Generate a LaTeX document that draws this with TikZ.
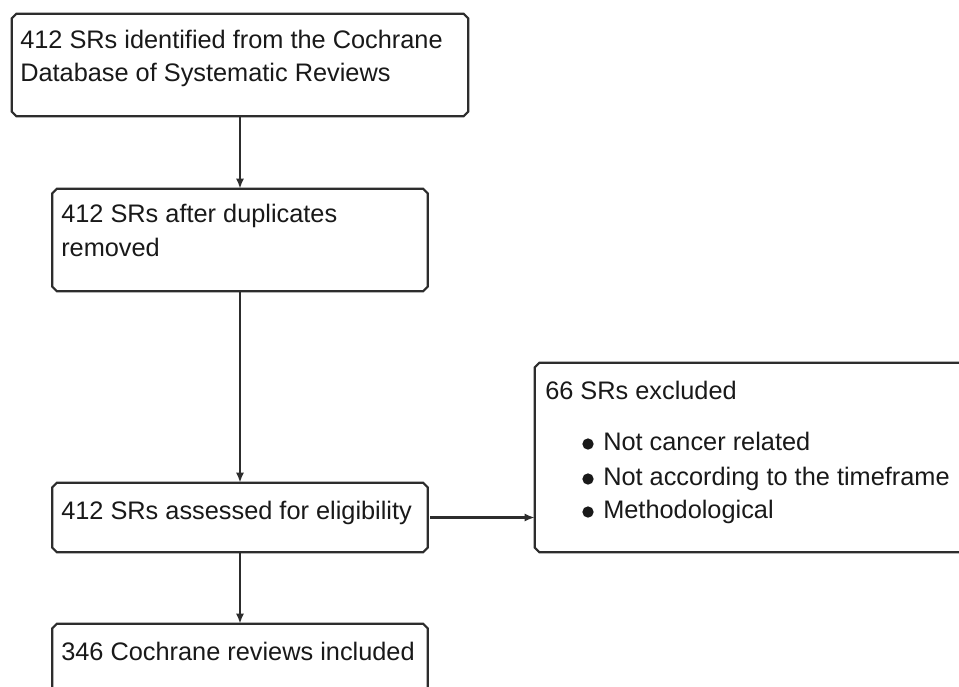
\documentclass[tikz,border=0pt]{standalone}
\usepackage{fontspec}
\setmainfont{Liberation Sans}
\usetikzlibrary{arrows.meta}
\definecolor{linec}{RGB}{45,45,45}
\definecolor{textc}{RGB}{25,25,25}
\newcommand{\chambox}[1]{%
  \draw[boxline] ([xshift=3.5pt]#1.north west) -- ([xshift=-3.5pt]#1.north east)
    -- ([yshift=-3.5pt]#1.north east) -- ([yshift=3.5pt]#1.south east)
    -- ([xshift=-3.5pt]#1.south east) -- ([xshift=3.5pt]#1.south west)
    -- ([yshift=3.5pt]#1.south west) -- ([yshift=-3.5pt]#1.north west) -- cycle;}
\begin{document}
\begin{tikzpicture}[x=0.75pt,y=-0.75pt,
  box/.style={rectangle, draw=none, inner sep=0pt},
  boxline/.style={draw=linec, line width=1.6pt, line join=miter},
  txt/.style={anchor=base west, inner sep=0pt, text=textc, font=\fontsize{19pt}{24pt}\selectfont},
  conn/.style={draw=linec, line width=1.6pt, -{Latex[length=7.5pt,width=6pt]}},
  dot/.style={circle, fill=textc, inner sep=0pt, minimum size=8.5pt}]
\useasboundingbox (0,0) rectangle (959,686);
\clip (0,0) rectangle (959,686);
\fill[white] (0,0) rectangle (959,686);
% boxes
\node[box, minimum width=342pt, minimum height=76.5pt] (b1) at (240,65) {};
\node[box, minimum width=281.25pt, minimum height=76.5pt] (b2) at (240,240) {};
\node[box, minimum width=281.25pt, minimum height=51.75pt] (b3) at (240,517.5) {};
\node[box, minimum width=281.25pt, minimum height=60pt] (b4) at (240,664) {};
\node[box, minimum width=330pt, minimum height=141.75pt] (b5) at (755,457.5) {};
\chambox{b1}\chambox{b2}\chambox{b3}\chambox{b4}\chambox{b5}
% texts
\node[txt] (t1a) at (20,48.5) {412 SRs identified from the Cochrane};
\node[txt] (t1b) at (20,81.5) {Database of Systematic Reviews};
\node[txt] (t2a) at (61,222.5) {412 SRs after duplicates};
\node[txt] (t2b) at (61,256) {removed};
\node[txt] (t3) at (61,519) {412 SRs assessed for eligibility};
\node[txt] (t4) at (61,660) {346 Cochrane reviews included};
\node[txt] (t5) at (545,399) {66 SRs excluded};
\node[dot] (d1) at (588,444) {};
\node[dot] (d2) at (588,479) {};
\node[dot] (d3) at (588,512) {};
\node[txt] (l1) at (603,450) {Not cancer related};
\node[txt] (l2) at (603,485) {Not according to the timeframe};
\node[txt] (l3) at (603,518) {Methodological};
% connectors
\draw[conn] (b1.south) -- (b2.north);
\draw[conn] (b2.south) -- (b3.north);
\draw[conn] (b3.south) -- (b4.north);
\draw[conn, shorten <=2pt] (b3.east) -- (b3.east -| b5.west);
\end{tikzpicture}
\end{document}
